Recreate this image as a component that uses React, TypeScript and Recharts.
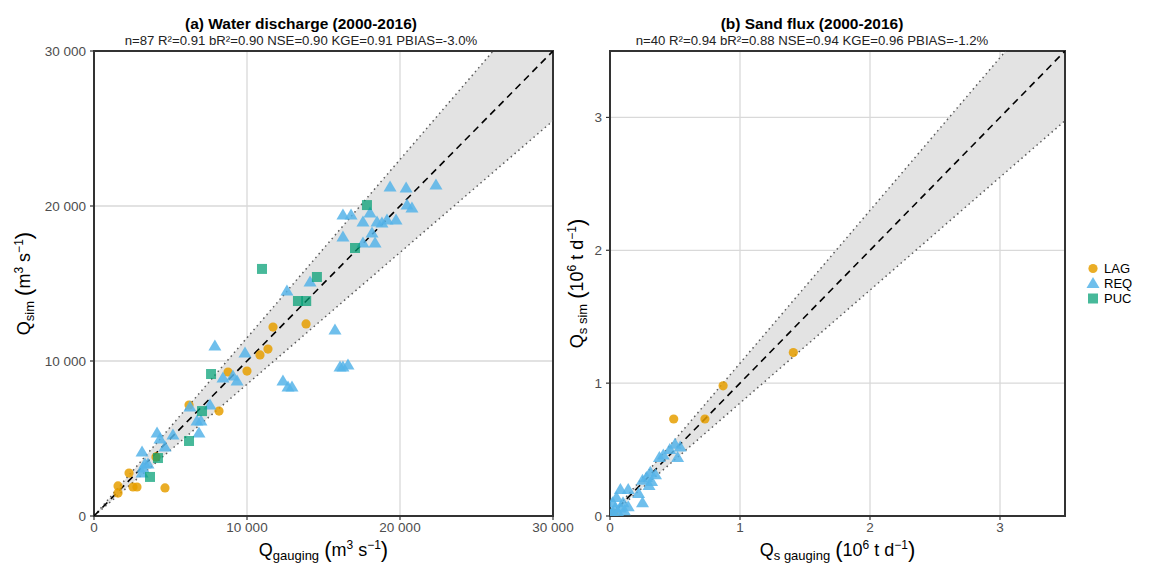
import React from 'react';
import {
  ComposedChart, Scatter, Area, Line, XAxis, YAxis, CartesianGrid, ReferenceArea, Label,
} from 'recharts';

// panel (a) water discharge, m3/s : [gauging, sim]
const lagA: [number, number][] = [
  [1570, 1940], [1570, 1480], [2290, 2770], [2550, 1870], [2810, 1870], [4640, 1810],
  [4050, 3810], [6210, 7160], [8170, 6770], [8760, 9290], [10000, 9350], [10850, 10390],
  [11370, 10770], [11700, 12190], [13860, 12390],
];
const reqA: [number, number][] = [
  [19350, 21230], [20400, 21160], [22350, 21350], [16270, 19420], [16800, 19420], [18040, 19550],
  [20460, 20060], [20780, 19870], [17580, 18970], [18500, 18970], [18820, 18900], [19150, 19100],
  [19740, 19100], [18170, 18260], [16270, 18000], [17580, 17610], [18370, 17610], [14120, 15100],
  [12610, 14520], [15750, 12000], [7900, 10970], [9870, 10520], [16080, 9610], [16270, 9610],
  [16600, 9740], [8430, 8900], [9080, 9030], [9350, 8710], [12350, 8710], [12680, 8320],
  [12940, 8320], [6270, 7030], [7580, 7160], [6730, 6130], [6990, 6130], [6860, 5350],
  [4120, 5350], [4310, 4970], [5160, 5230], [4640, 4450], [3140, 4130], [3330, 3350],
  [3530, 3350], [3200, 3100], [3140, 2770],
];
const pucA: [number, number][] = [
  [3660, 2520], [4180, 3740], [6210, 4840], [7060, 6770], [7650, 9160], [10980, 15940],
  [13330, 13870], [13870, 13870], [14570, 15420], [17060, 17290], [17840, 20060],
];

// panel (b) sand flux, 10^6 t/d : [gauging, sim]
const lagB: [number, number][] = [
  [1.41, 1.23], [0.87, 0.98], [0.49, 0.73], [0.73, 0.73], [0.03, 0.02],
];
const reqB: [number, number][] = [
  [0.50, 0.54], [0.54, 0.52], [0.46, 0.50], [0.41, 0.46], [0.38, 0.44], [0.52, 0.44],
  [0.31, 0.33], [0.35, 0.31], [0.28, 0.29], [0.25, 0.27], [0.32, 0.26], [0.30, 0.23],
  [0.22, 0.17], [0.25, 0.10], [0.08, 0.20], [0.14, 0.20], [0.05, 0.14], [0.02, 0.10],
  [0.10, 0.10], [0.14, 0.07], [0.04, 0.06], [0.08, 0.06], [0.02, 0.03], [0.06, 0.03],
  [0.11, 0.04], [0.01, 0.01],
];
const pucB: [number, number][] = [];

const ticksA = [0, 10000, 20000, 30000];
const ticksB = [0, 1, 2, 3];
const maxA = 30000;
const maxB = 3.5;
const tol = 0.15; // +/- 15 % band

const FONT = '"Liberation Sans", Arial, sans-serif';
const colors = { LAG: '#E69F00', REQ: '#56B4E9', PUC: '#009E73' };

const toPts = (arr: [number, number][]) => arr.map(([x, y]) => ({ x, y }));

function bandData(max: number) {
  const xTop = max / (1 + tol);
  return [
    { x: 0, one: 0, hi: 0, lo: 0, band: [0, 0] },
    { x: xTop, one: xTop, hi: max, lo: xTop * (1 - tol), band: [xTop * (1 - tol), max] },
    { x: max, one: max, hi: null, lo: max * (1 - tol), band: [max * (1 - tol), max] },
  ];
}

const Circle = (p: any) => (
  <circle cx={p.cx} cy={p.cy} r={4.6} fill={colors.LAG} fillOpacity={0.85} />
);
const Tri = (p: any) => (
  <polygon
    points={`${p.cx},${p.cy - 6.5} ${p.cx - 6.5},${p.cy + 4.5} ${p.cx + 6.5},${p.cy + 4.5}`}
    fill={colors.REQ} fillOpacity={0.85}
  />
);
const Sq = (p: any) => (
  <rect x={p.cx - 5} y={p.cy - 5} width={10} height={10} fill={colors.PUC} fillOpacity={0.72} />
);

const fmtA = (v: number) => String(v).replace(/\B(?=(\d{3})+(?!\d))/g, ' ');

function AxisTitle({ viewBox, main, sub, unit, vertical, offset }: any) {
  const parts = (
    <>
      {main}
      <tspan fontSize={13} dy={4}>{sub}</tspan>
      <tspan dy={-4}> </tspan>
      <tspan fontSize={22} dy={1}>(</tspan>
      <tspan dy={-1}>{unit[0]}</tspan>
      <tspan fontSize={12} dy={-7}>{unit[1]}</tspan>
      <tspan dy={7}>{' ' + unit[2]}</tspan>
      <tspan fontSize={12} dy={-7}>−1</tspan>
      <tspan fontSize={22} dy={8}>)</tspan>
    </>
  );
  if (vertical) {
    const x = viewBox.x + offset;
    const y = viewBox.y + viewBox.height / 2;
    return (
      <text x={x} y={y} transform={`rotate(-90 ${x} ${y})`} textAnchor="middle"
        fontFamily={FONT} fontSize={18} fill="#000">{parts}</text>
    );
  }
  const cx = viewBox.x + viewBox.width / 2;
  return (
    <text x={cx} y={viewBox.y + 40} textAnchor="middle" fontFamily={FONT} fontSize={18} fill="#000">
      {parts}
    </text>
  );
}

function Panel(props: any) {
  const { width, yWidth, marginRight, max, ticks, fmt, lag, req, puc, xSub, ySub, unit, yOffset } = props;
  return (
    <ComposedChart
      width={width}
      height={568}
      data={bandData(max)}
      margin={{ top: 51, right: marginRight, bottom: 0, left: 0 }}
    >
      <CartesianGrid stroke="#d9d9d9" strokeWidth={1.3} />
      <XAxis
        type="number" dataKey="x" domain={[0, max]} ticks={ticks} allowDataOverflow
        height={52} tickSize={4} tickMargin={2} axisLine={false}
        tickLine={{ stroke: '#333', strokeWidth: 1.2 }}
        tick={{ fill: '#4d4d4d', fontSize: 13.5, fontFamily: FONT }}
        tickFormatter={fmt}
      >
        <Label content={(p: any) => <AxisTitle {...p} main="Q" sub={xSub} unit={unit} />} />
      </XAxis>
      <YAxis
        type="number" dataKey="y" domain={[0, max]} ticks={ticks} allowDataOverflow
        width={yWidth} tickSize={4} tickMargin={4} axisLine={false}
        tickLine={{ stroke: '#333', strokeWidth: 1.2 }}
        tick={{ fill: '#4d4d4d', fontSize: 13.5, fontFamily: FONT }}
        tickFormatter={fmt}
      >
        <Label content={(p: any) => <AxisTitle {...p} main="Q" sub={ySub} unit={unit} vertical offset={yOffset} />} />
      </YAxis>
      <Area dataKey="band" type="linear" stroke="none" fill="#e3e3e3" fillOpacity={1} isAnimationActive={false} />
      <Line dataKey="hi" type="linear" stroke="#5a5a5a" strokeWidth={1.5} strokeDasharray="1.5 3.5" dot={false} isAnimationActive={false} />
      <Line dataKey="lo" type="linear" stroke="#5a5a5a" strokeWidth={1.5} strokeDasharray="1.5 3.5" dot={false} isAnimationActive={false} />
      <Line dataKey="one" type="linear" stroke="#000" strokeWidth={1.6} strokeDasharray="7 5" dot={false} isAnimationActive={false} />
      <Scatter data={toPts(lag)} shape={Circle} isAnimationActive={false} />
      <Scatter data={toPts(req)} shape={Tri} isAnimationActive={false} />
      <Scatter data={toPts(puc)} shape={Sq} isAnimationActive={false} />
      <ReferenceArea x1={0} x2={max} y1={0} y2={max} fill="none" stroke="#333" strokeWidth={2} ifOverflow="visible" />
    </ComposedChart>
  );
}

const titleStyle: React.CSSProperties = {
  position: 'absolute', textAlign: 'center', fontFamily: FONT, whiteSpace: 'nowrap',
};

function Titles({ center, title, stats }: any) {
  return (
    <>
      <div style={{ ...titleStyle, left: center - 300, width: 600, top: 15, fontSize: 15.5, fontWeight: 'bold', color: '#000' }}>{title}</div>
      <div style={{ ...titleStyle, left: center - 300, width: 600, top: 33, fontSize: 13.2, color: '#222' }}>{stats}</div>
    </>
  );
}

function LegendBox() {
  const items: [string, string][] = [['LAG', 'c'], ['REQ', 't'], ['PUC', 's']];
  return (
    <div style={{ position: 'absolute', left: 1085, top: 261, fontFamily: FONT, fontSize: 13 }}>
      {items.map(([name, k]) => (
        <div key={name} style={{ display: 'flex', alignItems: 'center', height: 15 }}>
          <svg width={16} height={15}>
            {k === 'c' && <circle cx={8} cy={7.5} r={4.6} fill={colors.LAG} fillOpacity={0.85} />}
            {k === 't' && <polygon points="8,1 1.5,12 14.5,12" fill={colors.REQ} fillOpacity={0.85} />}
            {k === 's' && <rect x={3} y={2.5} width={10} height={10} fill={colors.PUC} fillOpacity={0.72} />}
          </svg>
          <span style={{ marginLeft: 3, color: '#000' }}>{name}</span>
        </div>
      ))}
    </div>
  );
}

export default function App() {
  return (
    <div style={{ position: 'absolute', left: 0, top: 0, width: 1162, height: 568, background: '#fff' }}>
      <Titles
        center={301}
        title="(a) Water discharge (2000-2016)"
        stats="n=87 R²=0.91 bR²=0.90 NSE=0.90 KGE=0.91 PBIAS=-3.0%"
      />
      <Titles
        center={812}
        title="(b) Sand flux (2000-2016)"
        stats="n=40 R²=0.94 bR²=0.88 NSE=0.94 KGE=0.96 PBIAS=-1.2%"
      />
      <div style={{ position: 'absolute', left: 0, top: 0 }}>
        <Panel
          width={575} yWidth={94} marginRight={22} max={maxA} ticks={ticksA} fmt={fmtA}
          lag={lagA} req={reqA} puc={pucA} yOffset={30}
          xSub="gauging" ySub="sim" unit={['m', '3', 's']}
        />
      </div>
      <div style={{ position: 'absolute', left: 560, top: 0 }}>
        <Panel
          width={520} yWidth={50} marginRight={15} max={maxB} ticks={ticksB} fmt={(v: number) => String(v)}
          lag={lagB} req={reqB} puc={pucB} yOffset={23}
          xSub="s gauging" ySub="s sim" unit={['10', '6', 't d']}
        />
      </div>
      <LegendBox />
    </div>
  );
}
